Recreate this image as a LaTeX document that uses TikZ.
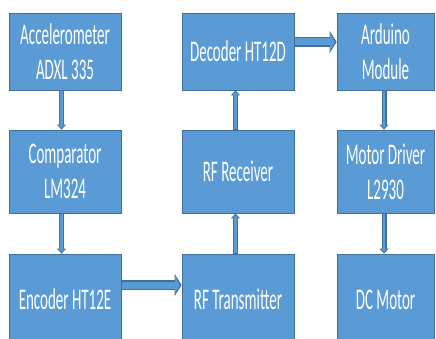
\documentclass[tikz,border=0pt]{standalone}
\usepackage{fontspec}
\setmainfont[FakeStretch=0.5]{Carlito}
\usetikzlibrary{arrows.meta}
\definecolor{bfill}{HTML}{5B9BD5}
\definecolor{bdark}{HTML}{41719C}
\tikzset{
  blk/.style={draw=bdark, line width=0.8pt, fill=bfill, text=white, align=center,
    inner sep=0pt, font=\fontsize{30}{35}\selectfont},
  w1/.style={minimum width=112pt},
  w3/.style={minimum width=97pt},
  h1/.style={minimum height=77pt},
  h2/.style={minimum height=83pt},
  h3/.style={minimum height=91pt},
  varrow/.style={draw=bdark, line width=5pt, -{Triangle[width=9pt,length=5pt]}},
  varrowin/.style={draw=bfill, line width=2.6pt, shorten >=1.6pt, -{Triangle[width=5.5pt,length=3pt]}},
  harrow/.style={draw=bdark, line width=10pt, -{Triangle[width=22pt,length=7pt]}},
  harrowin/.style={draw=bfill, line width=7pt, shorten >=1.8pt, -{Triangle[width=16pt,length=4.6pt]}}
}
\begin{document}
\begin{tikzpicture}[x=1pt,y=-1pt]
\useasboundingbox (0,0) rectangle (436,339);
\clip (0,0) rectangle (436,339);
\fill[white] (0,0) rectangle (436,339);
\node[blk,w1,h1] (acc) at (65,51.5) {Accelerometer\\ADXL 335};
\node[blk,w1,h2] (cmp) at (65,171.5) {Comparator\\LM324};
\node[blk,w1,h3] (enc) at (65,299.5) {Encoder HT12E};
\node[blk,w1,h1] (dec) at (238,51.5) {Decoder HT12D};
\node[blk,w1,h2] (rx) at (238,171.5) {RF Receiver};
\node[blk,w1,h3] (tx) at (238,299.5) {RF Transmitter};
\node[blk,w3,h1] (ard) at (385.5,51.5) {Arduino\\Module};
\node[blk,w3,h2] (mot) at (385.5,171.5) {Motor Driver\\L2930};
\node[blk,w3,h3] (dc) at (385.5,299.5) {DC Motor};
% vertical arrows
\foreach \a/\b/\s in {acc/cmp/-3.5pt, cmp/enc/-3.5pt, ard/mot/-1.5pt, mot/dc/-1.5pt}{
  \draw[varrow] ([xshift=\s]\a.south) -- ([xshift=\s]\b.north);
  \draw[varrowin] ([xshift=\s,yshift=-1pt]\a.south) -- ([xshift=\s]\b.north);
}
\foreach \a/\b/\s in {tx/rx/-2.5pt, rx/dec/-2.5pt}{
  \draw[varrow] ([xshift=\s]\a.north) -- ([xshift=\s]\b.south);
  \draw[varrowin] ([xshift=\s,yshift=1pt]\a.north) -- ([xshift=\s]\b.south);
}
% horizontal arrows
\draw[harrow] ([yshift=14.5pt]enc.east) -- ([yshift=14.5pt]tx.west);
\draw[harrowin] ([xshift=1pt,yshift=14.5pt]enc.east) -- ([yshift=14.5pt]tx.west);
\draw[harrow] ([yshift=9.5pt]dec.east) -- ([yshift=9.5pt]ard.west);
\draw[harrowin] ([xshift=1pt,yshift=9.5pt]dec.east) -- ([yshift=9.5pt]ard.west);
\end{tikzpicture}
\end{document}
